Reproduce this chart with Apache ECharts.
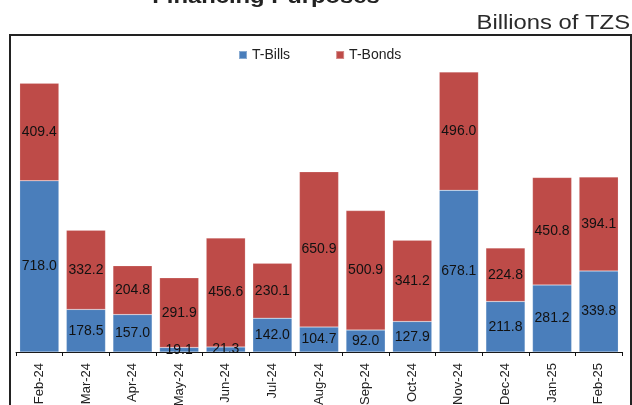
<!DOCTYPE html>
<html>
<head>
<meta charset="utf-8">
<script src="https://cdn.jsdelivr.net/npm/echarts@6/dist/echarts.min.js"></script>
<style>
  html, body { margin: 0; padding: 0; background: #fff; }
  #chart { width: 632px; height: 405px; }
</style>
</head>
<body>
<div id="chart"></div>
<script>
const months = ['Feb-24', 'Mar-24', 'Apr-24', 'May-24', 'Jun-24', 'Jul-24', 'Aug-24',
  'Sep-24', 'Oct-24', 'Nov-24', 'Dec-24', 'Jan-25', 'Feb-25']
const tBills = [718.0, 178.5, 157.0, 19.1, 21.3, 142.0, 104.7, 92.0, 127.9, 678.1, 211.8, 281.2, 339.8]
const tBonds = [409.4, 332.2, 204.8, 291.9, 456.6, 230.1, 650.9, 500.9, 341.2, 496.0, 224.8, 450.8, 394.1]

const font = 'Liberation Sans, Arial, sans-serif'

const barLabel = {
  show: true,
  position: 'inside',
  color: '#111',
  fontFamily: font,
  fontSize: 14,
  formatter: p => p.value.toFixed(1)
}

const chart = echarts.init(document.getElementById('chart'))

chart.setOption({
  animation: false,
  graphic: [
    {
      // title is cut off by the top edge in the source
      type: 'text',
      x: 266,
      y: 7,
      scaleX: 1.19,
      style: {
        text: 'Financing Purposes',
        font: 'bold 20px ' + font,
        fill: '#222',
        align: 'center',
        verticalAlign: 'bottom'
      }
    },
    {
      type: 'text',
      x: 630,
      y: 33,
      scaleX: 1.19,
      style: {
        text: 'Billions of TZS',
        font: '20px ' + font,
        fill: '#2a2a2a',
        align: 'right',
        verticalAlign: 'bottom'
      }
    },
    {
      type: 'rect',
      shape: { x: 10, y: 35, width: 621, height: 380 },
      style: { fill: 'none', stroke: '#222', lineWidth: 2 },
      z: -1
    }
  ],
  legend: {
    left: 238,
    top: 48,
    padding: 0,
    itemWidth: 8,
    itemHeight: 8,
    itemGap: 45,
    icon: 'rect',
    textStyle: { fontFamily: font, fontSize: 14, color: '#222' },
    data: ['T-Bills', 'T-Bonds']
  },
  grid: {
    left: 16,
    right: 10,
    top: 42,
    bottom: 53,
    outerBoundsMode: 'none'
  },
  xAxis: {
    type: 'category',
    data: months,
    axisLine: { lineStyle: { color: '#111', width: 1 } },
    axisTick: { show: true, length: 4, lineStyle: { color: '#111' } },
    axisLabel: {
      rotate: 90,
      margin: 11,
      interval: 0,
      color: '#222',
      fontFamily: font,
      fontSize: 13
    }
  },
  yAxis: {
    type: 'value',
    min: 0,
    max: 1300,
    show: false
  },
  series: [
    {
      name: 'T-Bills',
      type: 'bar',
      stack: 'total',
      barCategoryGap: '16%',
      data: tBills,
      itemStyle: { color: '#4a7ebb', borderColor: 'rgba(255,255,255,0.35)', borderWidth: 0.5 },
      label: barLabel
    },
    {
      name: 'T-Bonds',
      type: 'bar',
      stack: 'total',
      barCategoryGap: '16%',
      data: tBonds,
      itemStyle: { color: '#be4b48', borderColor: 'rgba(255,255,255,0.35)', borderWidth: 0.5 },
      label: barLabel
    }
  ]
})
</script>
</body>
</html>
